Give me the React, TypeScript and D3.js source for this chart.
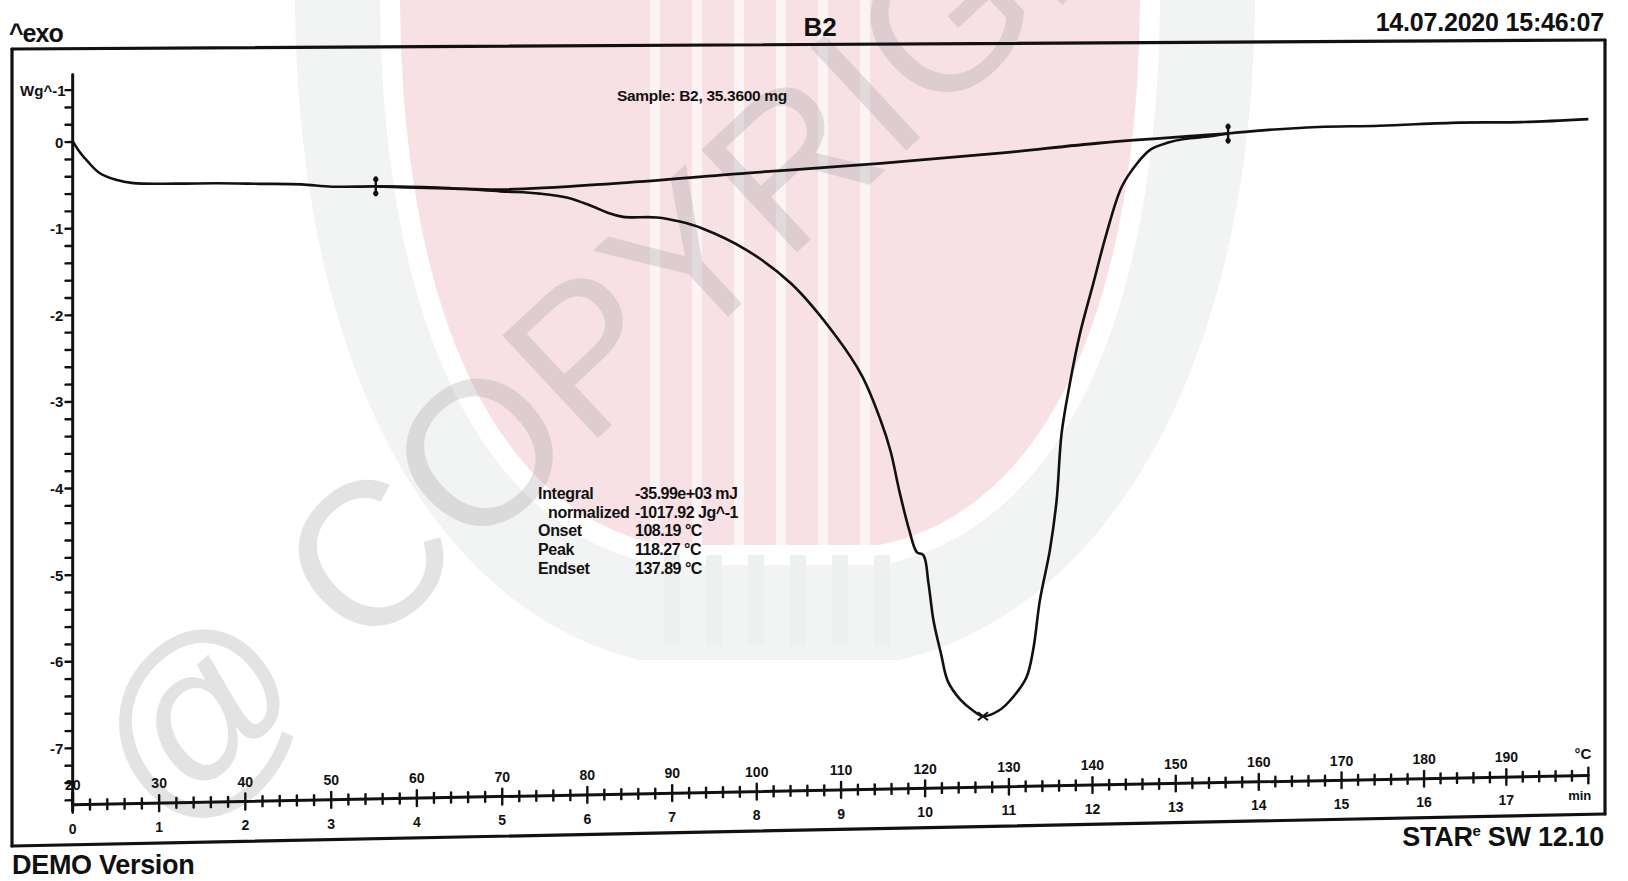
import * as d3 from "d3";

// DSC heat flow curve: time (min) vs heat flow (W/g)
const curveTime = [
  0, 0.07, 0.16, 0.31, 0.5, 0.7, 1.2, 1.67, 2.17, 2.65, 3.01, 3.52, 4.23, 4.98,
  5.44, 5.77, 6.05, 6.24, 6.42, 6.82, 7.09, 7.35, 7.88, 8.41, 8.94, 9.25, 9.47,
  9.59, 9.69, 9.81, 9.9, 9.98, 10.04, 10.1, 10.19, 10.27, 10.42, 10.57, 10.69,
  10.89, 11.05, 11.21, 11.29, 11.37, 11.49, 11.57, 11.63, 11.73, 11.85, 12.01,
  12.17, 12.35, 12.53, 12.7, 12.91, 13.1, 13.42, 13.63, 14.12, 14.72, 15.46,
  16.43, 17.18, 18.0,
];
const curveFlow = [
  0.01, -0.1, -0.21, -0.36, -0.44, -0.48, -0.49, -0.49, -0.5, -0.51, -0.54,
  -0.54, -0.56, -0.61, -0.64, -0.69, -0.79, -0.87, -0.92, -0.93, -0.98, -1.06,
  -1.32, -1.72, -2.34, -2.81, -3.33, -3.7, -4.15, -4.62, -4.88, -4.92, -5.25,
  -5.69, -6.08, -6.4, -6.62, -6.75, -6.82, -6.75, -6.6, -6.37, -6.05, -5.47,
  -4.88, -4.3, -3.51, -2.92, -2.34, -1.75, -1.16, -0.62, -0.35, -0.18, -0.1,
  -0.06, -0.03, 0.0, 0.04, 0.07, 0.08, 0.11, 0.11, 0.14,
];

// integration baseline between the two limit markers
const baseTime = [3.52, 4.35, 5.04, 6.3, 7.88, 9.47, 10.89, 12.09, 13.3, 13.63];
const baseFlow = [-0.54, -0.57, -0.59, -0.53, -0.42, -0.32, -0.21, -0.1, -0.02, 0.0];

// axis labels
const minuteLabels = ["0", "1", "2", "3", "4", "5", "6", "7", "8", "9", "10", "11", "12", "13", "14", "15", "16", "17"];
const tempLabels = ["20", "30", "40", "50", "60", "70", "80", "90", "100", "110", "120", "130", "140", "150", "160", "170", "180", "190"];
const flowLabels = ["0", "-1", "-2", "-3", "-4", "-5", "-6", "-7"];

// evaluation box
const resultLabels = ["Integral", "normalized", "Onset", "Peak", "Endset"];
const resultValues = ["-35.99e+03 mJ", "-1017.92 Jg^-1", "108.19 °C", "118.27 °C", "137.89 °C"];

const W = 1628;
const H = 881;
const font = "'Liberation Sans', Arial, Helvetica, sans-serif";
const ink = "#111";

// the printout was photographed slightly off-square: map the flat page
// frame onto the quadrilateral where its corners ended up
const frame = { left: 12, top: 49, right: 1605, bottom: 846 };
const frameCorners: [number, number][] = [
  [12, 49],
  [1605, 40],
  [1605, 814],
  [12, 846],
];

function quadProjector(q: [number, number][]) {
  const [[x0, y0], [x1, y1], [x2, y2], [x3, y3]] = q;
  const dx1 = x1 - x2, dx2 = x3 - x2, dx3 = x0 - x1 + x2 - x3;
  const dy1 = y1 - y2, dy2 = y3 - y2, dy3 = y0 - y1 + y2 - y3;
  const den = dx1 * dy2 - dx2 * dy1;
  const g = (dx3 * dy2 - dx2 * dy3) / den;
  const h = (dx1 * dy3 - dx3 * dy1) / den;
  const a = x1 - x0 + g * x1, b = x3 - x0 + h * x3, c = x0;
  const d = y1 - y0 + g * y1, e = y3 - y0 + h * y3, f = y0;
  return (u: number, v: number): [number, number] => {
    const w = g * u + h * v + 1;
    return [(a * u + b * v + c) / w, (d * u + e * v + f) / w];
  };
}

const toQuad = quadProjector(frameCorners);
const page = (X: number, Y: number) =>
  toQuad((X - frame.left) / (frame.right - frame.left), (Y - frame.top) / (frame.bottom - frame.top));

// scales in flat page coordinates
const x = d3.scaleLinear().domain([0, 18]).range([71, 71 + 84.27 * 18]);
const y = d3.scaleLinear().domain([0, -7]).range([142.5, 142.5 + 86.7 * 7]);
const axisY = 806;

const Seg = ({ x1, y1, x2, y2, w = 2.6 }: { x1: number; y1: number; x2: number; y2: number; w?: number }) => {
  const [a, b] = page(x1, y1);
  const [c, d] = page(x2, y2);
  return <line x1={a} y1={b} x2={c} y2={d} stroke={ink} strokeWidth={w} strokeLinecap="round" />;
};

const PText = ({ X, Y, children, anchor = "middle", size = 14 }: any) => {
  const [px, py] = page(X, Y);
  return (
    <text x={px} y={py} textAnchor={anchor} fontSize={size} fontWeight="bold" fontFamily={font} fill={ink}>
      {children}
    </text>
  );
};

const lineGen = d3
  .line<[number, number]>()
  .x((p) => p[0])
  .y((p) => p[1])
  .curve(d3.curveCatmullRom.alpha(0.5));

const Watermark = () => {
  const pink = "M 390 -10 L 1150 -10 C 1150 300, 1060 520, 880 555 L 660 555 C 480 520, 390 300, 390 -10 Z";
  const grey = "M 295 -10 L 1255 -10 C 1255 360, 1110 610, 900 660 L 640 660 C 430 610, 295 360, 295 -10 Z";
  const stripeX = [650, 692, 734, 776, 818, 860];
  return (
    <g>
      <path d={grey} fill="#f2f3f3" />
      <path d={pink} fill="#f7e1e5" stroke="#fff" strokeWidth={20} />
      {stripeX.map((sx) => (
        <rect key={`ws${sx}`} x={sx} y={0} width={10} height={555} fill="#fff" opacity={0.6} />
      ))}
      {stripeX.map((sx) => (
        <rect key={`gs${sx}`} x={sx + 14} y={555} width={16} height={90} fill="#eef0f0" />
      ))}
      <text
        x={169}
        y={838}
        transform="rotate(-43 169 838)"
        fontSize={204}
        fontFamily={font}
        fill="#8f8f8f"
        opacity={0.24}
      >
        @ COPYRIGHT
      </text>
    </g>
  );
};

export default function App() {
  const x0 = x(0);
  const curvePts = curveTime.map((t, i) => page(x(t), y(curveFlow[i])));
  const basePts = baseTime.map((t, i) => page(x(t), y(baseFlow[i])));
  const peakIdx = d3.minIndex(curveFlow);
  const [pkx, pky] = page(x(curveTime[peakIdx]), y(curveFlow[peakIdx]));

  const yTicks = d3.range(-38, 4).map((i) => i / 5);
  const xTicks = d3.range(0, 91).map((i) => i / 5);

  const limits = [0, baseTime.length - 1];

  return (
    <svg
      width={W}
      height={H}
      viewBox={`0 0 ${W} ${H}`}
      style={{ position: "absolute", left: 0, top: 0, background: "#fff" }}
    >
      <rect width={W} height={H} fill="#fff" />
      <Watermark />

      {/* header / footer */}
      <text x={9} y={42} fontSize={25} fontWeight="bold" fontFamily={font} fill={ink} letterSpacing={-1}>
        ^exo
      </text>
      <text x={820} y={36} textAnchor="middle" fontSize={26} fontWeight="bold" fontFamily={font} fill={ink}>
        B2
      </text>
      <text x={1604} y={31} textAnchor="end" fontSize={25} fontWeight="bold" fontFamily={font} fill={ink} letterSpacing={-0.2}>
        14.07.2020 15:46:07
      </text>
      <text x={12} y={874} fontSize={27} fontWeight="bold" fontFamily={font} fill={ink} letterSpacing={-0.3}>
        DEMO Version
      </text>
      <text x={1604} y={846} textAnchor="end" fontSize={27} fontWeight="bold" fontFamily={font} fill={ink} letterSpacing={-0.3}>
        STAR
        <tspan fontSize={15} dy={-10}>
          e
        </tspan>
        <tspan dy={10}> SW 12.10</tspan>
      </text>

      {/* frame */}
      <Seg x1={frame.left} y1={frame.top} x2={frame.right} y2={frame.top} w={3.2} />
      <Seg x1={frame.right} y1={frame.top} x2={frame.right} y2={frame.bottom} w={3.2} />
      <Seg x1={frame.right} y1={frame.bottom} x2={frame.left} y2={frame.bottom} w={3.2} />
      <Seg x1={frame.left} y1={frame.bottom} x2={frame.left} y2={frame.top} w={3.2} />

      {/* y axis */}
      <Seg x1={x0} y1={y(0.78)} x2={x0} y2={axisY} w={3} />
      {yTicks.map((v) => (
        <Seg key={`yt${v}`} x1={x0 - 7} y1={y(v)} x2={x0} y2={y(v)} w={2.4} />
      ))}
      {flowLabels.map((lab, i) => (
        <PText key={`yl${lab}`} X={x0 - 9} Y={y(-i) + 5.5} anchor="end" size={15}>
          {lab}
        </PText>
      ))}
      <PText X={x0 - 7} Y={y(0.6) + 5.5} anchor="end" size={15}>
        Wg^-1
      </PText>

      {/* time / temperature axis */}
      <Seg x1={x0} y1={axisY} x2={x(18)} y2={axisY} w={3} />
      {xTicks.map((t) => {
        const major = Math.abs(t - Math.round(t)) < 1e-6;
        const len = major ? 8 : 5;
        return <Seg key={`xt${t}`} x1={x(t)} y1={axisY - len} x2={x(t)} y2={axisY + len} w={2.4} />;
      })}
      <Seg x1={x0} y1={axisY - 12} x2={x0} y2={axisY + 6} w={3} />
      {tempLabels.map((lab, i) => (
        <PText key={`tl${lab}`} X={x(i)} Y={axisY - 15} size={14}>
          {lab}
        </PText>
      ))}
      {minuteLabels.map((lab, i) => (
        <PText key={`ml${lab}`} X={x(i)} Y={axisY + 29} size={14}>
          {lab}
        </PText>
      ))}
      <PText X={x(18) + 3} Y={axisY - 17} anchor="end" size={15}>
        °C
      </PText>
      <PText X={x(18) + 3} Y={axisY + 25} anchor="end" size={13}>
        min
      </PText>

      {/* curve and baseline */}
      <path d={lineGen(basePts) ?? ""} fill="none" stroke={ink} strokeWidth={2.8} strokeLinejoin="round" />
      <path d={lineGen(curvePts) ?? ""} fill="none" stroke={ink} strokeWidth={2.6} strokeLinejoin="round" />

      {/* limit markers */}
      {limits.map((i) => {
        const [mx, my] = basePts[i];
        return (
          <g key={`lim${i}`}>
            <line x1={mx} y1={my - 10} x2={mx} y2={my + 10} stroke={ink} strokeWidth={2.4} />
            <circle cx={mx} cy={my - 7} r={2.6} fill={ink} />
            <circle cx={mx} cy={my + 7} r={2.6} fill={ink} />
          </g>
        );
      })}
      {/* peak marker */}
      <g stroke={ink} strokeWidth={2.2}>
        <line x1={pkx - 5} y1={pky - 4} x2={pkx + 5} y2={pky + 4} />
        <line x1={pkx - 5} y1={pky + 4} x2={pkx + 5} y2={pky - 4} />
      </g>

      {/* annotations */}
      <text x={702} y={101} textAnchor="middle" fontSize={15.5} fontWeight="bold" fontFamily={font} fill={ink} letterSpacing={-0.3}>
        Sample: B2, 35.3600 mg
      </text>
      {resultLabels.map((lab, i) => (
        <g key={`res${lab}`}>
          <text
            x={i === 1 ? 548 : 538}
            y={499 + i * 18.7}
            fontSize={16}
            fontWeight="bold"
            fontFamily={font}
            fill={ink}
            letterSpacing={-0.3}
          >
            {lab}
          </text>
          <text x={635} y={499 + i * 18.7} fontSize={16} fontWeight="bold" fontFamily={font} fill={ink} letterSpacing={-0.5}>
            {resultValues[i]}
          </text>
        </g>
      ))}
    </svg>
  );
}
